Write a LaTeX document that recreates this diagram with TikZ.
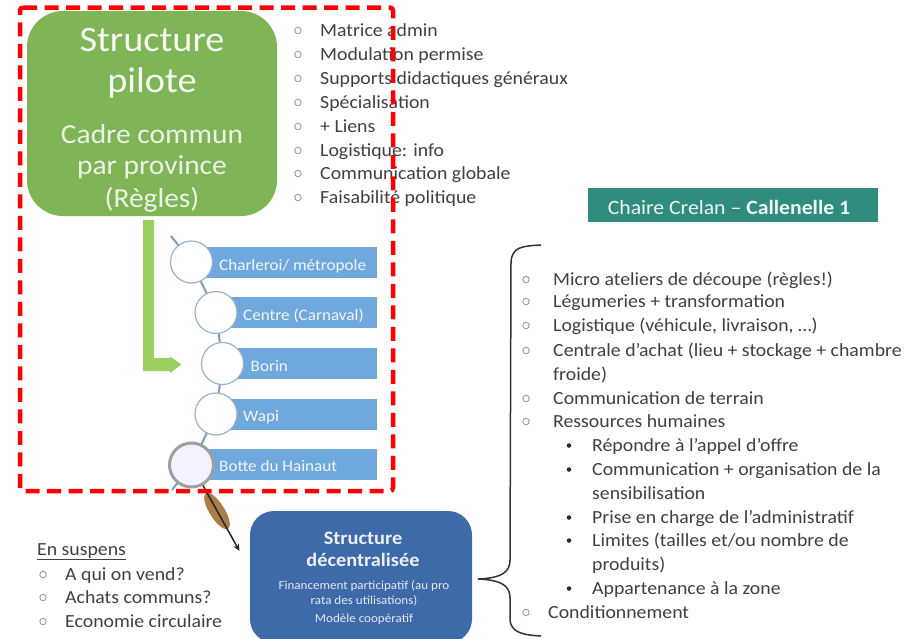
\documentclass[tikz,border=0pt]{standalone}
\usepackage{fontspec}
\setmainfont[FakeStretch=1.07]{Carlito}
\usetikzlibrary{arrows.meta}
\definecolor{pilotgreen}{HTML}{7FB457}
\definecolor{arrowgreen}{HTML}{9BCF5E}
\definecolor{barblue}{HTML}{6FA8DC}
\definecolor{linkblue}{HTML}{7F9DBF}
\definecolor{boxblue}{HTML}{3F6AAA}
\definecolor{teal}{HTML}{2F8C7F}
\definecolor{bodytext}{HTML}{404040}
\definecolor{dashred}{HTML}{FF0000}
\definecolor{handle}{HTML}{A97C4A}
\tikzset{
  x=1pt,y=-1pt,
  txt/.style={anchor=west,inner sep=0pt,text height=14pt,text depth=2pt,text=bodytext,font=\fontsize{18.5}{20}\selectfont},
  bul/.style={circle,draw=gray!80,line width=0.9pt,minimum size=6.5pt,inner sep=0pt},
  dot/.style={circle,fill=black!85,minimum size=4.5pt,inner sep=0pt},
  bar/.style={fill=barblue,draw=none},
  ring/.style={circle,draw=linkblue!80,line width=1.2pt,fill=white,minimum size=42pt,inner sep=0pt},
  barlabel/.style={anchor=west,inner sep=0pt,text height=12pt,text depth=2pt,text=white!90!barblue,font=\fontsize{16}{18}\selectfont},
  link/.style={draw=linkblue,line width=2pt},
  tiny/.style={inner sep=0pt,text height=10pt,text depth=1pt,text=white!85!boxblue,font=\fontsize{12.2}{14}\selectfont},
  big/.style={inner sep=0pt,text=white!92!pilotgreen,font=\fontsize{35.8}{40}\selectfont},
  mid/.style={inner sep=0pt,text=white!85!pilotgreen,font=\fontsize{27.5}{30}\selectfont},
  dhead/.style={inner sep=0pt,text height=15pt,text depth=2pt,text=white!90!boxblue,font=\bfseries\fontsize{19}{22}\selectfont},
}
\begin{document}
\begin{tikzpicture}
\clip (0,0) rectangle (908,638);
\fill[white] (0,0) rectangle (908,638);
% green box
\node[fill=pilotgreen,rounded corners=36pt,minimum width=250pt,minimum height=205pt,inner sep=0pt] (pilot) at (152,113.5) {};
\node[big] (pa) at (152,40) {Structure};
\node[big] (pb) at (152,83) {pilote};
\node[mid] (pc) at (152,134) {Cadre commun};
\node[mid] (pd) at (152,167) {par province};
\node[mid] (pe) at (152,200) {(Règles)};
% first list
\foreach \i/\y/\t in {1/30/Matrice admin,2/54/Modulation permise,3/78/Supports didactiques généraux,4/102/Spécialisation,5/126/+ Liens,6/150/Logistique: info,7/173/Communication globale,8/197/Faisabilité politique}{
  \node[bul] (ab\i) at (298,\y+0.5) {};
  \node[txt] (at\i) at (320,\y) {\t};
}
% title
\node[fill=teal,minimum width=290pt,minimum height=34pt,inner sep=0pt] (title) at (733,205) {};
\node[inner sep=0pt,text=white!92!teal,font=\fontsize{20.3}{22}\selectfont] (titletext) at (729,207) {Chaire Crelan -- \textbf{Callenelle 1}};
% green arrow
\fill[arrowgreen] (143,220) -- (154,220) -- (154,358) -- (170,358) -- (170,356.5) -- (181.5,364.5) -- (170,373) -- (170,371) -- (143,371) -- cycle;
% bars
\fill[bar] (190,246.5) rectangle (377,277.5);
\fill[bar] (215,297) rectangle (377,328);
\fill[bar] (222,348) rectangle (377,379);
\fill[bar] (215,398.5) rectangle (377,429.5);
\fill[bar] (190,449) rectangle (377,480);
% chain
\coordinate (chaintop) at (171,236);
\coordinate (chainbot) at (172,490);
\coordinate (tip) at (239.5,551);
\coordinate (r1) at (191.5,262);
\coordinate (r2) at (216,312.5);
\coordinate (r3) at (222.5,363.5);
\coordinate (r4) at (216,414);
\coordinate (r5) at (191.5,465);
\draw[link] (chaintop) -- (r1) -- (r2) -- (r3) -- (r4) -- (r5) -- (chainbot);
\node[ring] (c1) at (r1) {};
\node[ring] (c2) at (r2) {};
\node[ring] (c3) at (r3) {};
\node[ring] (c4) at (r4) {};
% magnifier handle
\fill[handle,rotate around={-58:(217,511)}] (217,511) ellipse (21pt and 7.5pt);
\draw[black!85,line width=1.5pt,-{Stealth[length=7pt,width=6pt]}] (r5) -- (tip);
\node[circle,draw=gray!75,line width=3pt,fill=blue!5!white,minimum size=44pt,inner sep=0pt] (c5) at (r5) {};
\node[barlabel] (l1) at (219,265.5) {Charleroi/ métropole};
\node[barlabel] (l2) at (243,315.5) {Centre (Carnaval)};
\node[barlabel] (l3) at (250.5,366) {Borin};
\node[barlabel] (l4) at (243,416) {Wapi};
\node[barlabel] (l5) at (219,466) {Botte du Hainaut};
% blue box
\node[fill=boxblue,rounded corners=24pt,minimum width=222pt,minimum height=132pt,inner sep=0pt] (deco) at (361,577) {};
\node[dhead] (da) at (363,538) {Structure};
\node[dhead] (db) at (363,560) {décentralisée};
\node[tiny] (dc) at (364,585) {Financement participatif (au pro};
\node[tiny] (dd) at (364,600) {rata des utilisations)};
\node[tiny] (de) at (364,618) {Modèle coopératif};
% en suspens
\node[txt] (es) at (37,549) {\underline{En suspens}};
\foreach \i/\y/\t in {1/574/A qui on vend?,2/597/Achats communs?,3/621/Economie circulaire}{
  \node[bul] (sb\i) at (43,\y+0.5) {};
  \node[txt] (st\i) at (65,\y) {\t};
}
% brace
\draw[black!80,line width=1.5pt] (541,245) .. controls (522,246) and (512,247) .. (511,262) -- (510,560) .. controls (510,572) and (502,578) .. (478,579) .. controls (502,580) and (510,586) .. (510,598) -- (510,620) .. controls (511,632) and (522,635) .. (541,636);
% right list
\foreach \i/\y/\t in {1/279/Micro ateliers de découpe (règles!),2/301/Légumeries + transformation,3/325/Logistique (véhicule{,} livraison{,} …),4/350/Centrale d’achat (lieu + stockage + chambre,6/398/Communication de terrain,7/421/Ressources humaines}{
  \node[bul] (rb\i) at (526,\y+0.5) {};
  \node[txt] (rt\i) at (553,\y) {\t};
}
\node[txt] (rt5) at (553,374) {froide)};
\foreach \i/\y/\t in {1/445/Répondre à l’appel d’offre,2/469/Communication + organisation de la,4/517/Prise en charge de l’administratif,7/588/Appartenance à la zone}{
  \node[dot] (qb\i) at (569,\y+0.5) {};
  \node[txt] (qt\i) at (592,\y) {\t};
}
\node[dot] (qb5) at (569,540.5) {};
\node[txt] (qt5) at (592,540) {Limites (tailles et/ou nombre de};
\node[txt] (qt3) at (592,493) {sensibilisation};
\node[txt] (qt6) at (592,564) {produits)};
\node[bul] (rb8) at (526,612.5) {};
\node[txt] (rt8) at (548,612) {Conditionnement};
% red dashed frame
\draw[dashred,line width=4.5pt,dash pattern=on 14pt off 7.5pt,rounded corners=3pt] (20,7.5) -- (393,7.5) -- (393,491) -- (20,491) -- cycle;
\end{tikzpicture}
\end{document}
